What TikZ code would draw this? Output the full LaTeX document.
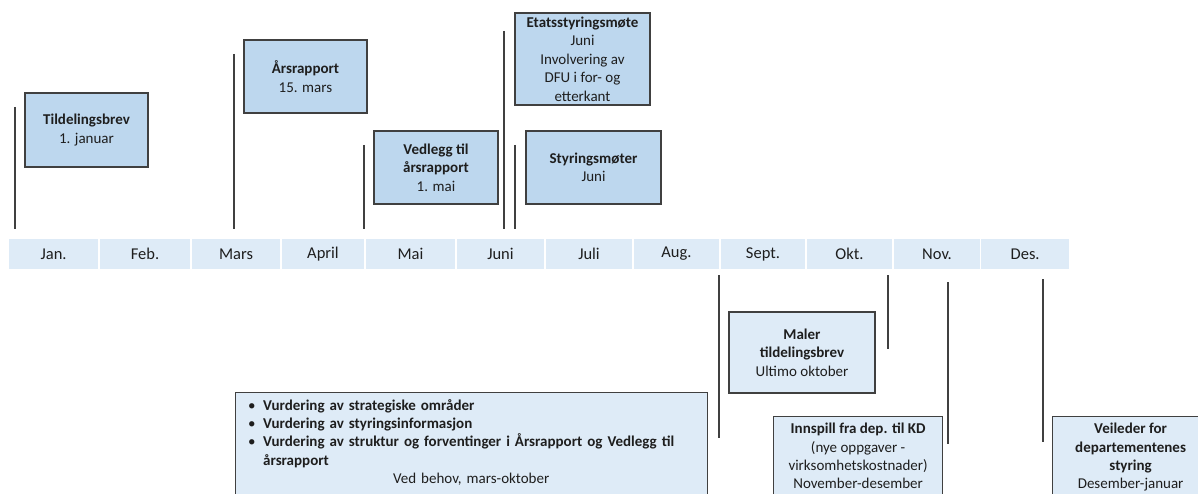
\documentclass[tikz,border=0pt]{standalone}
\usepackage{fontspec}
\setmainfont{Carlito}
\definecolor{topblue}{HTML}{BDD7EE}
\definecolor{lightblue}{HTML}{DEEBF7}
\definecolor{edge}{HTML}{404040}
\definecolor{txt}{HTML}{1E1E1E}
\begin{document}
\begin{tikzpicture}[x=1pt,y=-1pt,
  font=\fontsize{15}{18.4}\selectfont, text=txt,
  topbox/.style={draw=edge, line width=1.2pt, fill=topblue, align=center, inner sep=0pt},
  botbox/.style={draw=edge, line width=1.2pt, fill=lightblue, inner sep=0pt},
  bottext/.style={align=center, inner sep=0pt},
  month/.style={fill=lightblue, minimum height=30pt, inner sep=0pt, font=\fontsize{16.5}{19}\selectfont},
  vline/.style={draw=edge, line width=1.5pt}]
\useasboundingbox (0,0) rectangle (1198,494);
\clip (0,0) rectangle (1198,494);

% timeline
\node[month, minimum width=89.25pt] (jan) at (53.625,254) {Jan.};
\node[month, minimum width=90.5pt] (feb) at (145,254) {Feb.};
\node[month, minimum width=88.5pt] (mar) at (236,254) {Mars};
\node[month, minimum width=82.5pt] (apr) at (323,254) {April};
\node[month, minimum width=89.5pt] (mai) at (410.5,254) {Mai};
\node[month, minimum width=87.5pt] (jun) at (500.5,254) {Juni};
\node[month, minimum width=86.5pt] (jul) at (589,254) {Juli};
\node[month, minimum width=85.5pt] (aug) at (676.5,254) {Aug.};
\node[month, minimum width=84.5pt] (sep) at (763,254) {Sept.};
\node[month, minimum width=85.5pt] (okt) at (849.5,254) {Okt.};
\node[month, minimum width=86.5pt] (nov) at (937,254) {Nov.};
\node[month, minimum width=88.25pt] (des) at (1025.125,254) {Des.};

% upper boxes
\node[topbox, minimum width=123pt, minimum height=74pt] (tild) at (86.5,130)
  {\textbf{Tildelingsbrev}\\1. januar};
\node[topbox, minimum width=123pt, minimum height=73pt] (ars) at (305.5,76.5)
  {\textbf{Årsrapport}\\15. mars};
\node[topbox, minimum width=124pt, minimum height=73pt] (vedl) at (436,167.5)
  {\textbf{Vedlegg til}\\\textbf{årsrapport}\\1. mai};
\node[topbox, minimum width=135pt, minimum height=92pt] (etat) at (582.5,59)
  {\textbf{Etatsstyringsmøte}\\Juni\\Involvering av\\DFU i for- og\\etterkant};
\node[topbox, minimum width=135pt, minimum height=73pt] (styr) at (593.5,167.5)
  {\textbf{Styringsmøter}\\Juni};

% upper markers
\coordinate (l1a) at (15,107);   \coordinate (l1b) at (15,229);
\coordinate (l2a) at (234,54);   \coordinate (l2b) at (234,229);
\coordinate (l3a) at (364,145);  \coordinate (l3b) at (364,229);
\coordinate (l4a) at (504,31);   \coordinate (l4b) at (504,229);
\coordinate (l5a) at (515,145);  \coordinate (l5b) at (515,229);
\draw[vline] (l1a) -- (l1b);
\draw[vline] (l2a) -- (l2b);
\draw[vline] (l3a) -- (l3b);
\draw[vline] (l4a) -- (l4b);
\draw[vline] (l5a) -- (l5b);

% lower markers
\coordinate (m1a) at (719,275);  \coordinate (m1b) at (719,438);
\coordinate (m2a) at (888,275);  \coordinate (m2b) at (888,349);
\coordinate (m3a) at (948,282);  \coordinate (m3b) at (948,444);
\coordinate (m4a) at (1043,279); \coordinate (m4b) at (1043,442);
\draw[vline] (m1a) -- (m1b);
\draw[vline] (m2a) -- (m2b);
\draw[vline] (m3a) -- (m3b);
\draw[vline] (m4a) -- (m4b);

% lower boxes
\node[botbox, align=center, minimum width=146pt, minimum height=81pt] (maler) at (802,352.5)
  {\textbf{Maler}\\\textbf{tildelingsbrev}\\Ultimo oktober};

\node[botbox, anchor=north west, minimum width=472pt, minimum height=130pt] (vurdbox) at (235,392) {};
\node[anchor=north west, inner sep=0pt, align=left, text width=446pt] (vurd)
  at ([xshift=13pt,yshift=-7pt]vurdbox.north west)
  {\makebox[15pt][l]{\textbullet}\textbf{Vurdering av strategiske områder}\\
   \makebox[15pt][l]{\textbullet}\textbf{Vurdering av styringsinformasjon}\\
   \makebox[15pt][l]{\textbullet}\textbf{Vurdering av struktur og forventinger i Årsrapport og Vedlegg til}\\
   \hspace*{15pt}\textbf{årsrapport}\\
   \makebox[446pt]{Ved behov, mars-oktober}};

\node[botbox, anchor=north west, minimum width=169pt, minimum height=110pt] (innbox) at (773,416) {};
\node[bottext, anchor=north] (inn) at ([yshift=-7pt]innbox.north)
  {\textbf{Innspill fra dep. til KD}\\(nye oppgaver -\\virksomhetskostnader)\\November-desember};

\node[botbox, anchor=north west, minimum width=156pt, minimum height=110pt] (veilbox) at (1052,416) {};
\node[bottext, anchor=north] (veil) at ([yshift=-7pt]veilbox.north)
  {\textbf{Veileder for}\\\textbf{departementenes}\\\textbf{styring}\\Desember-januar};
\end{tikzpicture}
\end{document}
